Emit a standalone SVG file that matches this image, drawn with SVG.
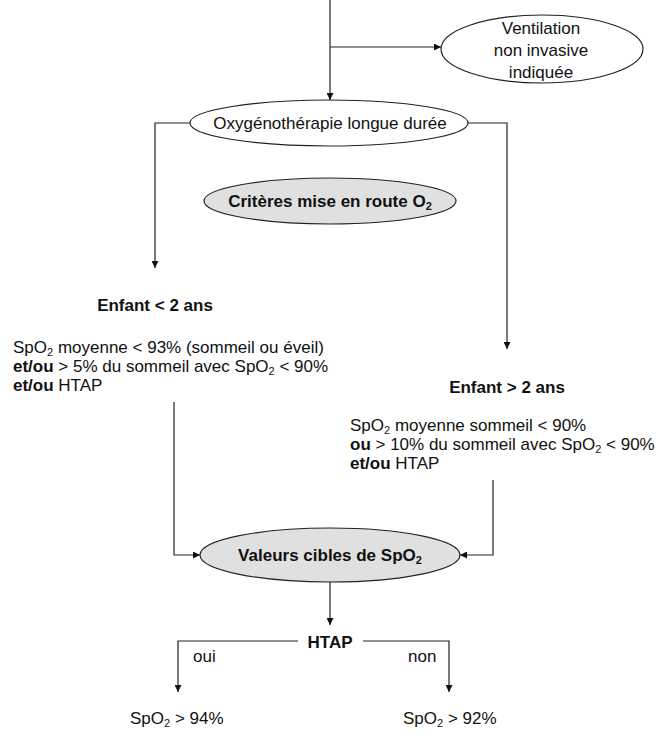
<svg xmlns="http://www.w3.org/2000/svg" width="656" height="734" viewBox="0 0 656 734">
<defs>
<style>
text{font-family:"Liberation Sans",Arial,sans-serif;font-size:17px;fill:#111}
.b{font-weight:bold}
.c{text-anchor:middle}
.sub{font-size:11px}
.line{fill:none;stroke:#222;stroke-width:1.2}
.ew{fill:#fff;stroke:#222;stroke-width:1.2}
.eg{fill:#e0e0e0;stroke:#222;stroke-width:1.2}
</style>
<marker id="ar" viewBox="0 0 10 10" refX="10" refY="5" markerWidth="8" markerHeight="7" markerUnits="userSpaceOnUse" orient="auto"><path d="M0,0 L10,5 L0,10 z" fill="#111"/></marker>
</defs>
<rect width="656" height="734" fill="#fff"/>
<g id="connectors">
<path class="line" d="M330,0 V100" marker-end="url(#ar)"/>
<path class="line" d="M330,47 H441" marker-end="url(#ar)"/>
<path class="line" d="M190,123 H155 V268" marker-end="url(#ar)"/>
<path class="line" d="M468,123 H507 V349" marker-end="url(#ar)"/>
<path class="line" d="M174,402 V555 H200" marker-end="url(#ar)"/>
<path class="line" d="M493,480 V555 H460" marker-end="url(#ar)"/>
<path class="line" d="M330,582 V625" marker-end="url(#ar)"/>
<path class="line" d="M298,641 H178 V692" marker-end="url(#ar)"/>
<path class="line" d="M363,641 H449 V692" marker-end="url(#ar)"/>
</g>
<g id="ventilation">
<ellipse class="ew" cx="542" cy="49" rx="101" ry="34"/>
<text class="c" x="541" y="34">Ventilation</text>
<text class="c" x="541" y="56">non invasive</text>
<text class="c" x="541" y="78">indiquée</text>
</g>
<g id="oxygenotherapie">
<ellipse class="ew" cx="329" cy="123" rx="139" ry="23"/>
<text class="c" x="330" y="129">Oxygénothérapie longue durée</text>
</g>
<g id="criteres">
<ellipse class="eg" cx="330" cy="201" rx="126" ry="23"/>
<text class="c b" x="330" y="207">Critères mise en route O<tspan class="sub" dy="3">2</tspan></text>
</g>
<g id="enfant-moins-2">
<text class="c b" x="155" y="311">Enfant &lt; 2 ans</text>
<text x="13" y="353">SpO<tspan class="sub" dy="3">2</tspan><tspan dy="-3"> moyenne &lt; 93% (sommeil ou éveil)</tspan></text>
<text x="13" y="372"><tspan class="b">et/ou</tspan> &gt; 5% du sommeil avec SpO<tspan class="sub" dy="3">2</tspan><tspan dy="-3"> &lt; 90%</tspan></text>
<text x="13" y="391"><tspan class="b">et/ou</tspan> HTAP</text>
</g>
<g id="enfant-plus-2">
<text class="c b" x="507" y="393">Enfant &gt; 2 ans</text>
<text x="350" y="431">SpO<tspan class="sub" dy="3">2</tspan><tspan dy="-3"> moyenne sommeil &lt; 90%</tspan></text>
<text x="350" y="450"><tspan class="b">ou</tspan> &gt; 10% du sommeil avec SpO<tspan class="sub" dy="3">2</tspan><tspan dy="-3"> &lt; 90%</tspan></text>
<text x="350" y="469"><tspan class="b">et/ou</tspan> HTAP</text>
</g>
<g id="valeurs">
<ellipse class="eg" cx="330" cy="555" rx="130" ry="27"/>
<text class="c b" x="330" y="561">Valeurs cibles de SpO<tspan class="sub" dy="3">2</tspan></text>
</g>
<g id="htap">
<text class="c b" x="330" y="648">HTAP</text>
</g>
<g id="labels">
<text x="193" y="662">oui</text>
<text x="408" y="662">non</text>
</g>
<g id="res-oui">
<text x="130" y="724">SpO<tspan class="sub" dy="3">2</tspan><tspan dy="-3"> &gt; 94%</tspan></text>
</g>
<g id="res-non">
<text x="403" y="724">SpO<tspan class="sub" dy="3">2</tspan><tspan dy="-3"> &gt; 92%</tspan></text>
</g>
</svg>
